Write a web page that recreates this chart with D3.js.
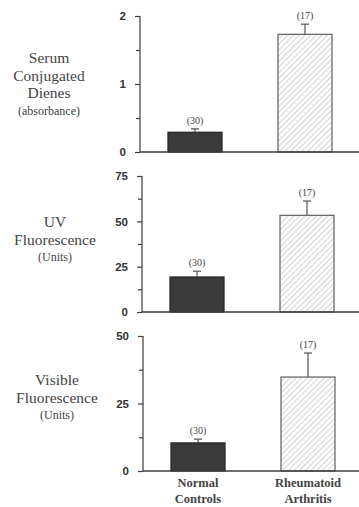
<!DOCTYPE html>
<html>
<head>
<meta charset="utf-8">
<script src="https://cdn.jsdelivr.net/npm/d3@7"></script>
<style>
  body { margin: 0; background: #fff; }
  svg { display: block; }
</style>
</head>
<body>
<script>
// groups along the bottom
var categories = ["Normal Controls", "Rheumatoid Arthritis"];
var catLines = [["Normal", "Controls"], ["Rheumatoid", "Arthritis"]];
var nLabels = ["(30)", "(17)"];

// one array per panel: means and upper error (mean + SE)
var dienesMean = [0.29, 1.73];
var dienesErr = [0.34, 1.88];
var uvMean = [19.3, 53.3];
var uvErr = [22.5, 61.2];
var visMean = [10.4, 34.8];
var visErr = [11.8, 43.7];

// axis ticks
var dienesTicks = [0, 1, 2];
var dienesMinor = [0.5, 1.5];
var uvTicks = [0, 25, 50, 75];
var uvMinor = [12.5, 37.5, 62.5];
var visTicks = [0, 25, 50];
var visMinor = [12.5, 37.5];

var panels = [
  {title: ["Serum", "Conjugated", "Dienes"], unit: "(absorbance)", mean: dienesMean, err: dienesErr,
   ticks: dienesTicks, minor: dienesMinor, max: 2, ax: 140, top: 16, zero: 152, tx: 49, ty: 63},
  {title: ["UV", "Fluorescence"], unit: "(Units)", mean: uvMean, err: uvErr,
   ticks: uvTicks, minor: uvMinor, max: 75, ax: 142, top: 176, zero: 312, tx: 55, ty: 227},
  {title: ["Visible", "Fluorescence"], unit: "(Units)", mean: visMean, err: visErr,
   ticks: visTicks, minor: visMinor, max: 50, ax: 143, top: 336, zero: 471, tx: 57, ty: 385}
];

var width = 359, height = 507;
var barW = 54;
var ink = "#3c3c3c";

var svg = d3.select("body").append("svg")
    .attr("width", width)
    .attr("height", height);

var pat = svg.append("defs").append("pattern")
    .attr("id", "hatch")
    .attr("patternUnits", "userSpaceOnUse")
    .attr("width", 4).attr("height", 4)
    .attr("patternTransform", "rotate(45)");
pat.append("rect").attr("width", 4).attr("height", 4).attr("fill", "#fff");
pat.append("line")
    .attr("x1", 0).attr("y1", 0).attr("x2", 0).attr("y2", 4)
    .attr("stroke", "#b8b8b8").attr("stroke-width", 1.3);

panels.forEach(function(p, i) {
  var x = d3.scalePoint()
      .domain(categories)
      .range([p.ax, p.ax + 220])
      .padding(0.5);
  var y = d3.scaleLinear()
      .domain([0, p.max])
      .range([p.zero, p.top]);

  var g = svg.append("g");

  // bars
  g.selectAll("rect.bar")
    .data(categories)
    .enter().append("rect")
      .attr("class", "bar")
      .attr("x", d => x(d) - barW / 2)
      .attr("y", (d, j) => y(p.mean[j]))
      .attr("width", barW)
      .attr("height", (d, j) => y(0) - y(p.mean[j]))
      .attr("fill", (d, j) => j == 0 ? "#3a3a3a" : "url(#hatch)")
      .attr("stroke", (d, j) => j == 0 ? "#2a2a2a" : "#6a6a6a")
      .attr("stroke-width", 1.3);

  // error bars (upper only)
  var eb = g.selectAll("g.err")
    .data(categories)
    .enter().append("g")
      .attr("stroke", "#555")
      .attr("stroke-width", 1.2);
  eb.append("line")
      .attr("x1", d => x(d)).attr("x2", d => x(d))
      .attr("y1", (d, j) => y(p.mean[j]))
      .attr("y2", (d, j) => y(p.err[j]));
  eb.append("line")
      .attr("x1", d => x(d) - 4).attr("x2", d => x(d) + 4)
      .attr("y1", (d, j) => y(p.err[j]))
      .attr("y2", (d, j) => y(p.err[j]));

  // n labels
  g.selectAll("text.n")
    .data(categories)
    .enter().append("text")
      .attr("x", d => x(d))
      .attr("y", (d, j) => y(p.err[j]) - 5)
      .attr("text-anchor", "middle")
      .attr("font-family", "Liberation Serif")
      .attr("font-size", 10)
      .attr("fill", "#444")
      .text((d, j) => nLabels[j]);

  // y axis
  var yAxis = g.append("g")
      .attr("transform", `translate(${p.ax},0)`)
      .call(d3.axisLeft(y).tickValues(p.ticks).tickFormat(d3.format("d"))
        .tickSize(5).tickPadding(9).tickSizeOuter(0));
  yAxis.append("g")
      .call(d3.axisLeft(y).tickValues(p.minor).tickSize(4).tickFormat("").tickSizeOuter(0))
      .select(".domain").remove();
  yAxis.selectAll("path, line").attr("stroke", ink).attr("stroke-width", 1.2);
  yAxis.select(".domain").attr("d", `M0,${p.top}V${p.zero}`);
  yAxis.selectAll("text")
      .attr("font-family", "Liberation Sans")
      .attr("font-weight", "bold")
      .attr("font-size", 11.5)
      .attr("fill", "#333");

  // baseline
  g.append("line")
      .attr("x1", p.ax).attr("x2", width)
      .attr("y1", y(0)).attr("y2", y(0))
      .attr("stroke", ink).attr("stroke-width", 1.3);

  // y title
  var t = g.append("text")
      .attr("text-anchor", "middle")
      .attr("font-family", "Liberation Serif")
      .attr("fill", "#444");
  p.title.forEach(function(s, k) {
    t.append("tspan")
        .attr("x", p.tx).attr("y", p.ty + k * 17.5)
        .attr("font-size", 15.5)
        .text(s);
  });
  t.append("tspan")
      .attr("x", p.tx).attr("y", p.ty + p.title.length * 17.5 - 1)
      .attr("font-size", 12)
      .text(p.unit);

  // category labels on last panel
  if (i == panels.length - 1) {
    categories.forEach(function(c, j) {
      var lt = g.append("text")
          .attr("text-anchor", "middle")
          .attr("font-family", "Liberation Serif")
          .attr("font-size", 12.5)
          .attr("font-weight", "bold")
          .attr("fill", "#444");
      catLines[j].forEach(function(s, k) {
        lt.append("tspan")
            .attr("x", x(c)).attr("y", 487 + k * 16)
            .text(s);
      });
    });
  }
});
</script>
</body>
</html>
